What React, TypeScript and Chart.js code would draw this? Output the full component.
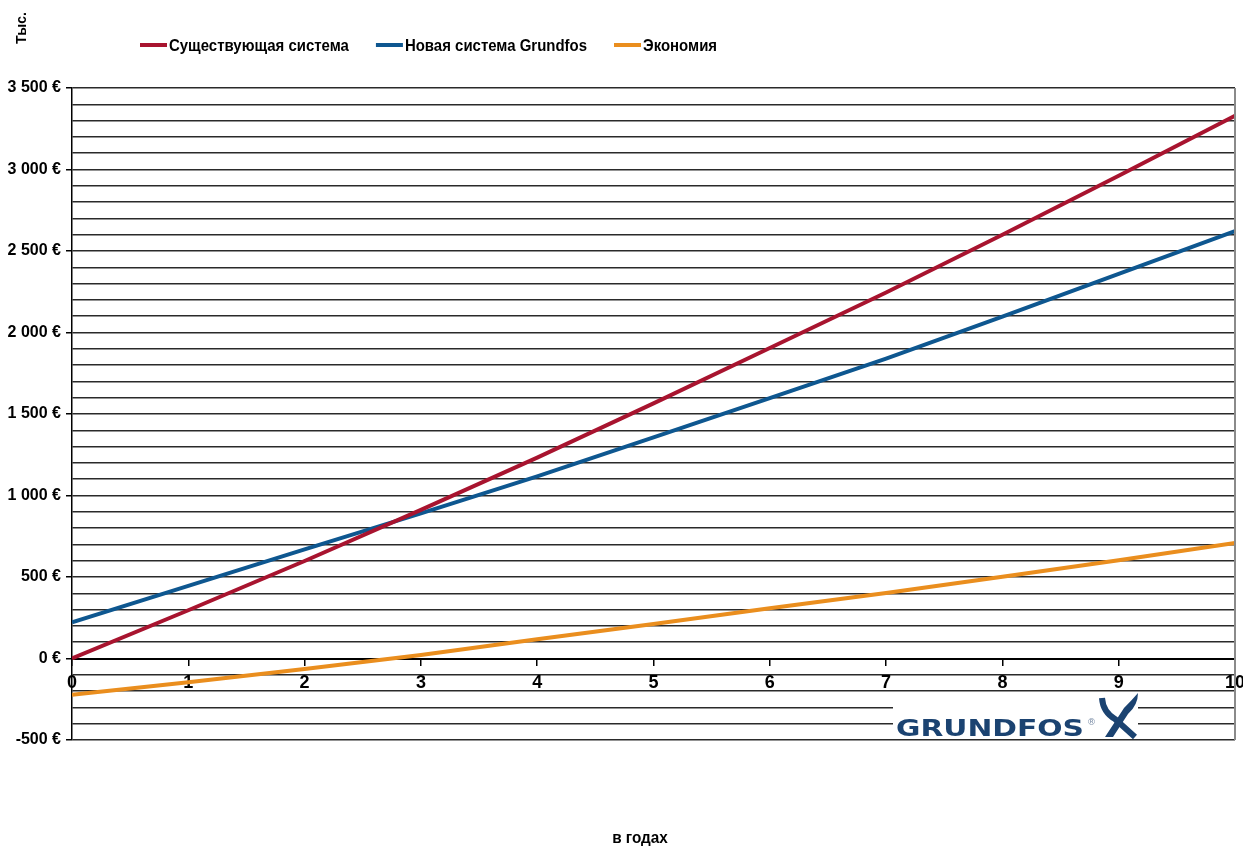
import React, { useEffect, useRef } from 'react';
import { Chart, registerables } from 'chart.js';

Chart.register(...registerables);

// Years on the horizontal axis
const years = [0, 1, 2, 3, 4, 5, 6, 7, 8, 9, 10];
// Cumulative costs, thousand €
const existingSystem = [0, 296, 598, 912, 1232, 1565, 1905, 2245, 2600, 2962, 3330];
const grundfosSystem = [222, 445, 669, 890, 1117, 1356, 1598, 1840, 2098, 2360, 2622];
const savings = [-222, -146, -64, 22, 118, 212, 308, 402, 502, 603, 708];

const seriesLabels = ['Существующая система', 'Новая система Grundfos', 'Экономия'];
const seriesColors = ['#A8142F', '#0E5790', '#EA8E1E'];

const yMin = -500;
const yMax = 3500;
const yGridStep = 100;
const yLabelStep = 500;

const unitLabel = 'Тыс.';
const xTitle = 'в годах';
const logoText = 'GRUNDFOS';

const narrowFont = "'Liberation Sans Narrow', 'Arial Narrow', 'Liberation Sans', sans-serif";

function formatEuro(v: number): string {
  const s = String(Math.abs(v)).replace(/\B(?=(\d{3})+(?!\d))/g, ' ');
  return (v < 0 ? '-' : '') + s + ' €';
}

// draws text squeezed horizontally, returns the drawn width
function narrowText(ctx: CanvasRenderingContext2D, text: string, x: number, y: number, squeeze: number, align: 'left' | 'center') {
  const w = ctx.measureText(text).width * squeeze;
  ctx.save();
  ctx.translate(align === 'center' ? x - w / 2 : x, y);
  ctx.scale(squeeze, 1);
  ctx.textAlign = 'left';
  ctx.fillText(text, 0, 0);
  ctx.restore();
  return w;
}

const decorPlugin = {
  id: 'decor',
  afterDraw(chart: any) {
    const { ctx, chartArea } = chart;
    ctx.save();

    // right frame edge
    ctx.strokeStyle = '#8a8a8a';
    ctx.lineWidth = 2;
    ctx.beginPath();
    ctx.moveTo(chartArea.right, chartArea.top);
    ctx.lineTo(chartArea.right, chartArea.bottom);
    ctx.stroke();

    // legend row
    ctx.font = `bold 17px ${narrowFont}`;
    ctx.textBaseline = 'middle';
    let lx = 140;
    const ly = 45;
    chart.data.datasets.forEach((ds: any) => {
      ctx.strokeStyle = ds.borderColor;
      ctx.lineWidth = 4;
      ctx.beginPath();
      ctx.moveTo(lx, ly);
      ctx.lineTo(lx + 27, ly);
      ctx.stroke();
      ctx.fillStyle = '#000';
      const w = narrowText(ctx, ds.label, lx + 29, ly + 1, 0.88, 'left');
      lx += 29 + w + 27;
    });

    // unit caption, rotated
    ctx.save();
    ctx.translate(22, 28);
    ctx.rotate(-Math.PI / 2);
    ctx.font = `bold 14px ${narrowFont}`;
    ctx.textAlign = 'center';
    ctx.textBaseline = 'middle';
    ctx.fillStyle = '#000';
    ctx.fillText(unitLabel, 0, 0);
    ctx.restore();

    // horizontal axis caption
    ctx.font = `bold 17px ${narrowFont}`;
    ctx.textBaseline = 'middle';
    ctx.fillStyle = '#000';
    narrowText(ctx, xTitle, 640, 838, 0.9, 'center');

    // logo
    ctx.fillStyle = '#fff';
    ctx.fillRect(893, 693, 245, 45);
    ctx.fillStyle = '#1B4371';
    ctx.font = "bold 23px 'DejaVu Sans', sans-serif";
    ctx.textAlign = 'left';
    ctx.textBaseline = 'alphabetic';
    const w = ctx.measureText(logoText).width;
    ctx.save();
    ctx.translate(896, 736);
    ctx.scale(188 / w, 1);
    ctx.fillText(logoText, 0, 0);
    ctx.restore();
    ctx.font = "9px 'DejaVu Sans', sans-serif";
    ctx.fillStyle = '#7d8fa8';
    ctx.fillText('®', 1087, 725);
    // symbol
    ctx.strokeStyle = '#1B4371';
    ctx.lineWidth = 6;
    ctx.lineCap = 'butt';
    ctx.beginPath();
    ctx.moveTo(1102, 698);
    ctx.quadraticCurveTo(1103, 712, 1115, 719);
    ctx.lineTo(1135, 737);
    ctx.stroke();
    ctx.fillStyle = '#1B4371';
    ctx.beginPath();
    ctx.moveTo(1138, 693);
    ctx.quadraticCurveTo(1138, 705, 1128, 714);
    ctx.lineTo(1113, 737);
    ctx.lineTo(1105, 737);
    ctx.lineTo(1124, 708);
    ctx.quadraticCurveTo(1132, 700, 1138, 693);
    ctx.fill();

    ctx.restore();
  },
};

export default function App() {
  const canvasRef = useRef<HTMLCanvasElement | null>(null);

  useEffect(() => {
    const canvas = canvasRef.current;
    if (!canvas) return;
    const series = [existingSystem, grundfosSystem, savings];
    const chart = new Chart(canvas, {
      type: 'line',
      data: {
        datasets: series.map((vals, i) => ({
          label: seriesLabels[i],
          data: years.map((x, j) => ({ x, y: vals[j] })),
          borderColor: seriesColors[i],
          backgroundColor: seriesColors[i],
          borderWidth: 4,
          pointRadius: 0,
          tension: 0,
          fill: false,
        })),
      },
      options: {
        responsive: false,
        animation: false,
        devicePixelRatio: 1,
        layout: { padding: { left: 0, top: 88, right: 8, bottom: 107 } },
        plugins: {
          legend: { display: false },
          tooltip: { enabled: false },
          title: { display: false },
        },
        scales: {
          x: {
            type: 'linear',
            min: years[0],
            max: years[years.length - 1],
            position: { y: 0 } as any,
            afterFit(scale: any) {
              scale.paddingLeft = 0;
              scale.paddingRight = 0;
            },
            ticks: {
              stepSize: 1,
              color: '#000',
              font: { family: narrowFont, size: 18, weight: 'bold' },
              padding: 8,
            },
            grid: {
              drawOnChartArea: false,
              drawTicks: true,
              tickLength: 6,
              color: '#000',
              lineWidth: 1.5,
            },
            border: { color: '#000', width: 2 },
          },
          y: {
            min: yMin,
            max: yMax,
            afterFit(scale: any) {
              scale.width = 72;
            },
            ticks: {
              stepSize: yGridStep,
              autoSkip: false,
              color: '#000',
              font: { family: narrowFont, size: 16, weight: 'bold' },
              padding: 5,
              callback: (v: any) => (Number(v) % yLabelStep === 0 ? formatEuro(Number(v)) : ''),
            },
            grid: {
              color: '#2a2a2a',
              lineWidth: 1.5,
              tickLength: 6,
              tickColor: (c: any) =>
                c.tick && c.tick.value % yLabelStep === 0 ? '#000' : 'rgba(0,0,0,0)',
            },
            border: { color: '#000', width: 1.5 },
          },
        },
      },
      plugins: [decorPlugin],
    });
    return () => chart.destroy();
  }, []);

  return (
    <div style={{ position: 'fixed', left: 0, top: 0, width: 1243, height: 847, background: '#fff' }}>
      <canvas ref={canvasRef} width={1243} height={847} />
    </div>
  );
}
